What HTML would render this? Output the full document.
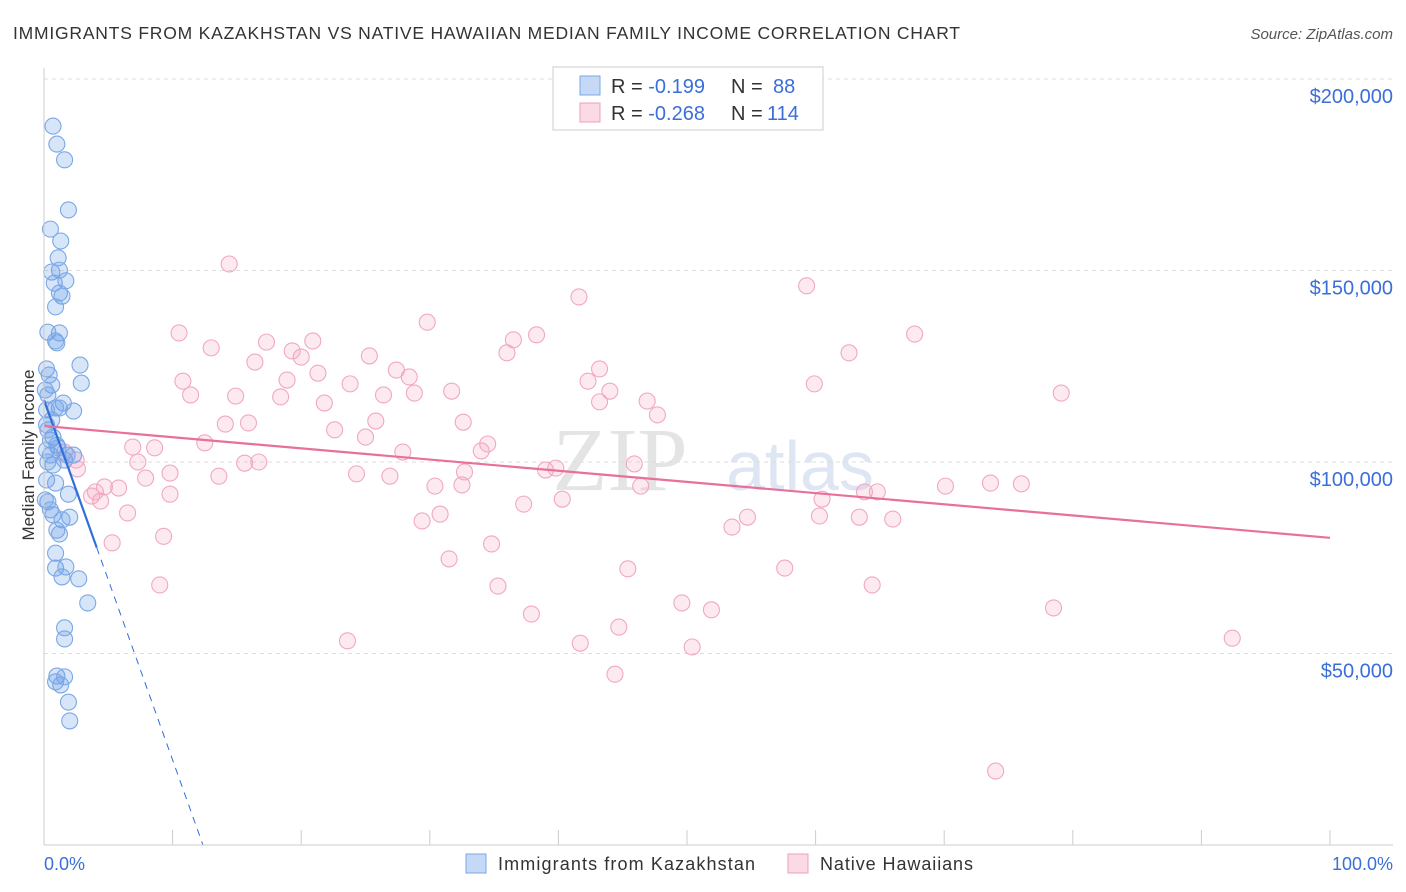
<!DOCTYPE html>
<html><head><meta charset="utf-8"><style>
body{margin:0;background:#fff;font-family:"Liberation Sans",sans-serif;}
#wrap{position:relative;width:1406px;height:892px;overflow:hidden;}
</style></head><body>
<div id="wrap">
<svg id="svg" width="1406" height="892">
<text x="13" y="39" font-size="17.5" fill="#333" textLength="947" lengthAdjust="spacing">IMMIGRANTS FROM KAZAKHSTAN VS NATIVE HAWAIIAN MEDIAN FAMILY INCOME CORRELATION CHART</text>
<text x="1393" y="39" font-size="15" fill="#555" font-style="italic" text-anchor="end">Source: ZipAtlas.com</text>
<text x="620" y="490" font-size="90" fill="#e4e4e4" font-family="Liberation Serif,serif" text-anchor="middle">ZIP</text>
<text x="800" y="490" font-size="70" fill="#dde6f2" text-anchor="middle">atlas</text>
<text transform="translate(34,455) rotate(-90)" font-size="17" fill="#333" text-anchor="middle">Median Family Income</text>
<g id="grid"></g><g id="pts"></g><g id="trend"></g>
<line x1="44" y1="68" x2="44" y2="845" stroke="#ccc"/>
<line x1="44" y1="845" x2="1393" y2="845" stroke="#ccc"/>
<text x="44" y="870" font-size="18" fill="#3a6fd8">0.0%</text>
<text x="1393" y="870" font-size="18" fill="#3a6fd8" text-anchor="end">100.0%</text>
<g>
<rect x="553" y="67" width="270" height="63" fill="#fff" stroke="#ccc"/>
<rect x="580" y="76" width="20" height="19" fill="rgba(110,160,235,0.4)" stroke="#7aa7e6"/>
<rect x="580" y="103" width="20" height="19" fill="rgba(245,160,190,0.4)" stroke="#eea0bb"/>
<text x="611" y="93" font-size="20" fill="#333">R = <tspan fill="#3a6fd8">-0.199</tspan><tspan x="731">N =</tspan><tspan x="773" fill="#3a6fd8">88</tspan></text>
<text x="611" y="120" font-size="20" fill="#333">R = <tspan fill="#3a6fd8">-0.268</tspan><tspan x="731">N =</tspan><tspan x="767" fill="#3a6fd8">114</tspan></text>
</g>
<g>
<rect x="466" y="854" width="20" height="19" fill="rgba(110,160,235,0.4)" stroke="#7aa7e6"/>
<text x="498" y="870" font-size="18" fill="#333" textLength="257" lengthAdjust="spacing">Immigrants from Kazakhstan</text>
<rect x="788" y="854" width="20" height="19" fill="rgba(245,160,190,0.4)" stroke="#eea0bb"/>
<text x="820" y="870" font-size="18" fill="#333" textLength="153" lengthAdjust="spacing">Native Hawaiians</text>
</g>
</svg>
</div>
<script>
const yTicks=[50,100,150,200];
const xTicks=[10,20,30,40,50,60,70,80,90,100];
const blueX=[0.7,1.0,1.6,1.9,0.5,1.3,1.1,1.2,0.6,0.8,1.7,1.2,1.4,0.9,0.3,1.2,1.0,0.9,2.8,0.2,0.4,0.6,2.9,0.1,0.3,1.5,1.2,2.3,0.9,0.6,0.2,0.5,0.7,1.0,2.3,1.8,0.3,0.7,0.2,0.9,1.9,0.3,0.5,0.7,2.0,1.4,1.0,1.2,0.9,0.9,1.7,1.4,2.7,3.4,1.6,1.6,1.0,1.6,0.9,1.3,1.9,2.0,0.2,0.2,0.5,0.1,0.3,1.1,1.6];
const blueY=[187.7,183.0,178.9,165.8,160.8,157.7,153.3,150.1,149.6,146.7,147.3,144.1,143.3,140.5,133.9,133.7,131.1,131.6,125.3,124.3,122.7,120.1,120.6,118.8,117.5,115.4,114.1,113.3,114.1,111.0,109.7,105.7,106.5,104.4,101.8,101.8,100.0,99.2,95.3,94.5,91.6,89.6,87.5,86.2,85.6,84.9,82.2,81.2,76.2,72.3,72.6,70.0,69.5,63.2,56.7,53.8,44.1,43.9,42.6,41.8,37.3,32.4,113.6,103.1,101.8,90.1,108.4,103.7,100.5];
const pinkX=[14.4,10.5,13.0,67.7,59.3,41.6,29.8,38.3,36.5,36.0,62.6,20.9,17.3,19.3,16.4,20.0,21.3,25.3,27.4,28.4,10.8,11.4,14.9,18.9,18.4,21.8,23.8,26.4,28.8,31.7,42.3,43.2,44.0,43.2,46.9,47.7,59.9,79.1,25.8,14.1,15.9,12.5,22.6,25.0,27.9,32.6,34.5,34.0,6.9,8.6,7.3,9.8,15.6,16.7,13.6,7.9,2.6,1.6,2.5,24.3,26.9,30.4,32.5,32.7,39.0,39.8,45.9,46.4,60.5,63.8,64.8,70.1,73.6,76.0,4.7,5.8,3.7,4.4,9.8,6.5,29.4,30.8,37.3,40.3,54.7,53.5,60.3,63.4,66.0,9.3,5.3,34.8,31.5,45.4,57.6,9.0,35.3,64.4,49.6,51.9,37.9,78.5,44.7,23.6,41.7,50.4,92.4,44.4,74.0,4.0];
const pinkY=[151.7,133.7,129.8,133.4,146.0,143.1,136.5,133.2,131.9,128.5,128.5,131.6,131.3,129.0,126.1,127.4,123.2,127.7,124.0,122.2,121.1,117.5,117.2,121.4,117.0,115.4,120.4,117.5,118.0,118.5,121.1,124.3,118.5,115.7,115.9,112.3,120.4,118.0,110.7,109.9,110.2,105.0,108.4,106.5,102.6,110.4,104.7,102.9,103.9,103.7,100.0,97.1,99.7,100.0,96.3,95.8,98.2,102.6,100.5,96.9,96.3,93.7,94.0,97.4,97.9,98.4,99.5,93.7,90.3,92.2,92.2,93.7,94.5,94.3,93.5,93.2,91.1,89.8,91.6,86.7,84.6,86.4,89.0,90.3,85.6,83.0,85.9,85.6,85.1,80.6,78.9,78.6,74.7,72.1,72.3,67.9,67.6,67.9,63.2,61.4,60.3,61.9,56.9,53.3,52.7,51.7,54.0,44.6,19.3,92.2];
const blueTrend=[116.2,-9.4];
const blueSolidEnd=[4.1];
const pinkTrend=[109.4,-0.292];

const NS='http://www.w3.org/2000/svg';
const sx=v=>44+v*12.86;
const sy=v=>845-v*3.83;
function mk(tag,attrs,parent){const e=document.createElementNS(NS,tag);for(const k in attrs)e.setAttribute(k,attrs[k]);parent.appendChild(e);return e;}
const grid=document.getElementById('grid'),pts=document.getElementById('pts'),tr=document.getElementById('trend');
yTicks.forEach(t=>{
  const l=mk('line',{x1:44,x2:1393,y1:sy(t),y2:sy(t),stroke:'#ddd','stroke-dasharray':'4,4'},grid);
  
  
  const tx=mk('text',{x:1393,y:sy(t)+24,'font-size':20,fill:'#3a6fd8','text-anchor':'end'},grid);
  tx.textContent='$'+(t*1000).toLocaleString('en-US');
  
  
});
xTicks.forEach(t=>{
  const l=mk('line',{x1:sx(t),x2:sx(t),y1:830,y2:845,stroke:'#ccc'},grid);
  
  
});
pinkX.forEach((x,i)=>{
  const c=mk('circle',{cx:sx(x),cy:sy(pinkY[i]),r:8,fill:'rgba(245,160,190,0.22)',stroke:'#f0a8c0','stroke-width':1.1},pts);
  
  
});
blueX.forEach((x,i)=>{
  const c=mk('circle',{cx:sx(x),cy:sy(blueY[i]),r:8,fill:'rgba(110,160,235,0.28)',stroke:'#7aa7e6','stroke-width':1.1},pts);
  
  
});
const bf=x=>blueTrend[0]+blueTrend[1]*x;
const xz=-blueTrend[0]/blueTrend[1];
let l1=mk('line',{x1:sx(0),y1:sy(bf(0)),x2:sx(blueSolidEnd[0]),y2:sy(bf(blueSolidEnd[0])),stroke:'#2f6fd9','stroke-width':2.2},tr);


let l2=mk('line',{x1:sx(blueSolidEnd[0]),y1:sy(bf(blueSolidEnd[0])),x2:sx(xz),y2:sy(0),stroke:'#2f6fd9','stroke-width':1,'stroke-dasharray':'7,6'},tr);


const pf=x=>pinkTrend[0]+pinkTrend[1]*x;
let l3=mk('line',{x1:sx(0),y1:sy(pf(0)),x2:sx(100),y2:sy(pf(100)),stroke:'#e8709a','stroke-width':2.2},tr);


</script>
</body></html>
